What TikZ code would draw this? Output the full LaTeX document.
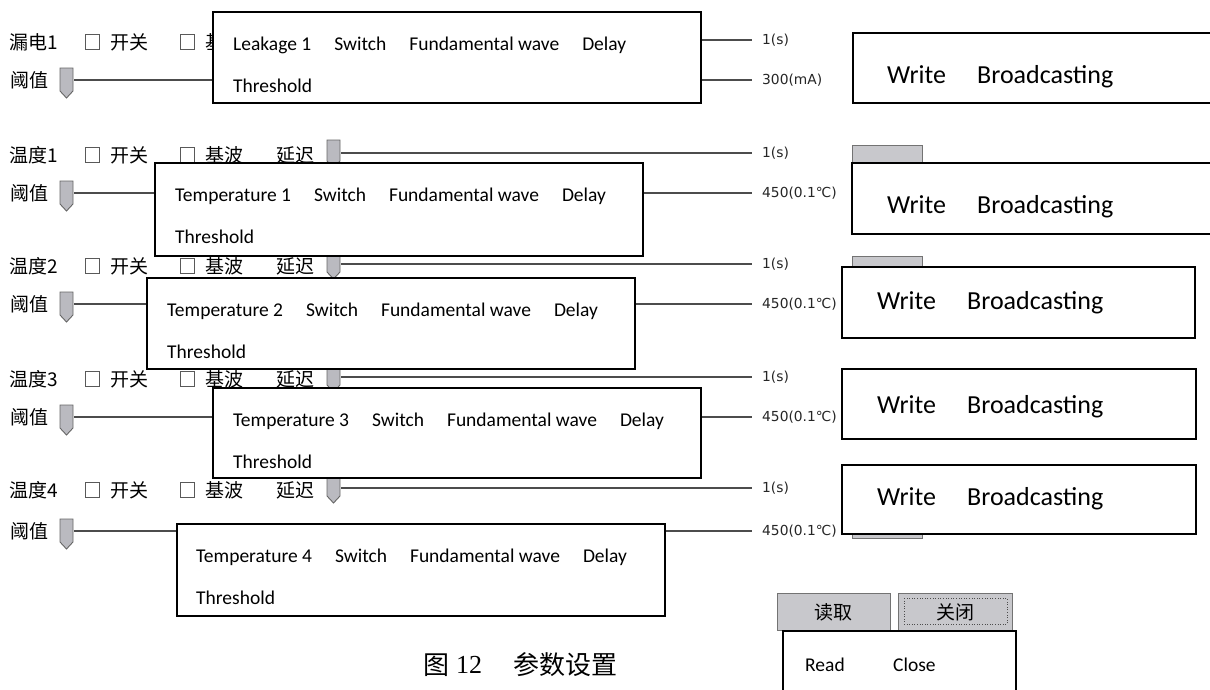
\documentclass[tikz,border=0pt]{standalone}
\usepackage{fontspec}
\setmainfont{Carlito}
\newfontfamily\cjk{Noto Sans CJK SC}
\newfontfamily\uif{DejaVu Sans}
\newfontfamily\capser{Liberation Serif}
\begin{document}
\begin{tikzpicture}[x=1pt,y=-1pt,
  lbl/.style={font=\cjk\fontsize{19}{19}\selectfont,inner sep=0pt,anchor=west},
  val/.style={font=\uif\fontsize{13.8}{14}\selectfont,inner sep=0pt,anchor=west,text=black!85},
  en/.style={font=\fontsize{19.5}{20}\selectfont,inner sep=0pt,anchor=base west},
  wr/.style={font=\fontsize{26}{26}\selectfont,inner sep=0pt,anchor=base west},
  panel/.style={draw=black,line width=1.5pt,fill=white},
  track/.style={draw=black!70,line width=2pt},
  thumb/.style={fill={rgb,255:red,186;green,186;blue,192},draw=black!60,line width=0.9pt},
  cbox/.style={draw=black!65,fill=white,line width=1pt,minimum width=13.5pt,minimum height=15pt,inner sep=0pt},
  btn/.style={fill={rgb,255:red,200;green,200;blue,204},draw=black!55,line width=1pt},
  cjkbtn/.style={font=\cjk\fontsize{19}{19}\selectfont,inner sep=0pt}]
\useasboundingbox (0,0) rectangle (1210,689);
\clip (0,0) rectangle (1210,689);
\fill[white] (0,0) rectangle (1210,689);

% partly hidden label of the first row
\begin{scope}
  \clip (0,0) rectangle (212,110);
  \node[lbl] (fw1) at (205,42) {基};
\end{scope}

% rows of controls
\foreach \g/\ly/\ty/\nm/\vv in {1/40/80/漏电1/300(mA),2/153/193/温度1/450(0.1℃),3/264/304/温度2/450(0.1℃),4/377/417/温度3/450(0.1℃),5/488/531/温度4/450(0.1℃)}{
  \node[lbl] (nm\g) at (9,\ly+2) {\nm};
  \node[cbox] (cba\g) at (92.5,\ly+2) {};
  \node[lbl] (sw\g) at (110,\ly+2) {开关};
  \node[cbox] (cbb\g) at (187.5,\ly+2) {};
  \ifnum\g>1
    \node[lbl] (fw\g) at (205,\ly+2) {基波};
    \node[lbl] (dl\g) at (276,\ly+2) {延迟};
    \draw[thumb] (327,\ly-13) -- (340,\ly-13) -- (340,\ly+8) -- (333.5,\ly+15) -- (327,\ly+8) -- cycle;
  \fi
  \coordinate (ds\g) at (341,\ly);
  \node[val] (dv\g) at (762,\ly) {1(s)};
  \draw[track] (ds\g) -- ([xshift=-10pt]dv\g.west);
  \node[lbl] (th\g) at (10,\ty) {阈值};
  \coordinate (ts\g) at (74,\ty);
  \node[val] (tv\g) at (762,\ty) {\vv};
  \draw[track] (ts\g) -- ([xshift=-10pt]tv\g.west);
  \draw[thumb] (60,\ty-12) -- (73,\ty-12) -- (73,\ty+11) -- (66.5,\ty+18) -- (60,\ty+11) -- cycle;
  \draw[btn] (852,\ly-8) rectangle (922,\ty+7);
}

% English overlay panels
\foreach \g/\xa/\ya/\xb/\yb/\tx/\ww in {1/213/12/701/103/233/Leakage 1,2/155/163/643/256/175/Temperature 1,3/147/278/635/369/167/Temperature 2,4/213/388/701/478/233/Temperature 3,5/177/524/665/616/196/Temperature 4}{
  \draw[panel] (\xa,\ya) rectangle (\xb,\yb);
  \node[en] (pa\g) at (\tx,\ya+38.5) {\ww\hspace{23pt}Switch\hspace{23pt}Fundamental wave\hspace{23pt}Delay};
  \node[en] (pb\g) at (\tx,\ya+80) {Threshold};
}

% Write / Broadcasting panels
\foreach \g/\xa/\ya/\xb/\yb/\tx/\by in {1/853/33/1216/103/887/83,2/852/163/1216/234/887/213,3/842/267/1195/338/877/309,4/842/369/1196/439/877/413,5/842/465/1196/534/877/505}{
  \draw[panel] (\xa,\ya) rectangle (\xb,\yb);
  \node[wr] (wa\g) at (\tx,\by) {Write};
  \node[wr] (wb\g) at (\tx+90,\by) {Broadcasting};
}

% bottom buttons
\draw[btn] (777,593) rectangle (890,630);
\node[cjkbtn] (rd) at (833.5,612) {读取};
\draw[btn] (898,593) rectangle (1012,630);
\draw[black!70,line width=0.6pt,dotted] (904,598) rectangle (1007,624);
\node[cjkbtn] (cl) at (955,612) {关闭};
\draw[panel] (783,631) rectangle (1016,700);
\node[en] (rden) at (805,671) {Read};
\node[en] (clen) at (893,671) {Close};

% caption
\node[anchor=west,inner sep=0pt,font=\cjk\fontsize{26}{26}\selectfont] (cap1) at (423,665) {图};
\node[anchor=west,inner sep=0pt,font=\capser\fontsize{26}{26}\selectfont] (cap2) at (456,665) {12};
\node[anchor=west,inner sep=0pt,font=\cjk\fontsize{26}{26}\selectfont] (cap3) at (513,665) {参数设置};
\end{tikzpicture}
\end{document}
